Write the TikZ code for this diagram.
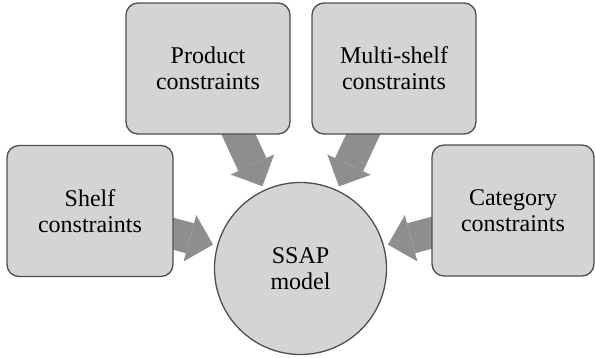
\documentclass[tikz,border=0pt]{standalone}
\usepackage{fontspec}
\setmainfont{LiberationSerif-Regular.ttf}
\usetikzlibrary{arrows.meta}
\usetikzlibrary{backgrounds}
\definecolor{boxgray}{RGB}{212,212,212}
\definecolor{arrowgray}{RGB}{142,142,144}
\definecolor{edgegray}{RGB}{78,78,78}
\begin{document}
\begin{tikzpicture}[x=1pt,y=-1pt,
 cbox/.style={draw=edgegray, line width=1.3pt, fill=boxgray, rounded corners=12pt,
  minimum width=164pt, minimum height=131pt, align=center,
  font=\fontsize{24}{26}\selectfont},
 ssapnode/.style={circle, draw=edgegray, line width=1.3pt, fill=boxgray,
  minimum size=172pt, inner sep=0pt, align=center,
  font=\fontsize{24}{26}\selectfont},
 flow/.style={arrowgray, line width=31pt, shorten <=-10pt, shorten >=4pt,
  -{Triangle[width=48pt,length=24pt,line width=0pt]}}]
\useasboundingbox (0,0) rectangle (595,357);
\node[cbox, minimum width=166pt] (shelf) at (90,211) {Shelf\\constraints};
\node[cbox] (product) at (208,68.5) {Product\\constraints};
\node[cbox] (multi) at (394,68.5) {Multi-shelf\\constraints};
\node[cbox, minimum width=162pt] (category) at (513,210.5) {Category\\constraints};
\node[ssapnode] (ssap) at (300.5,268.5) {SSAP\\model};
% block arrows behind the boxes
\begin{scope}[on background layer]
\foreach \src in {shelf,product,multi,category} {
 \draw[flow] (\src) -- (ssap);
}
\end{scope}
\end{tikzpicture}
\end{document}
